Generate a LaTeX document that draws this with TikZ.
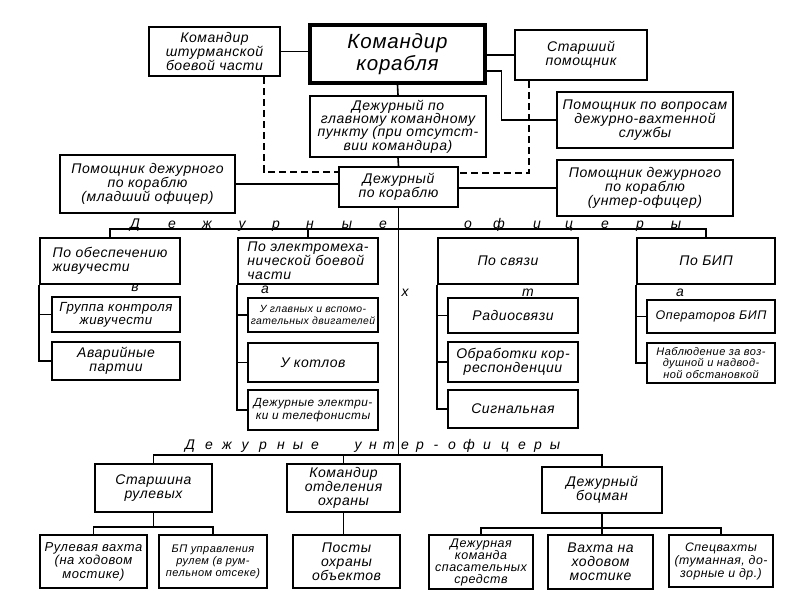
\documentclass[tikz,border=0pt]{standalone}
\usepackage{fontspec}
\setmainfont{Liberation Sans}[LetterSpace=4]
\newcommand\tsz[2]{\fontsize{#1}{#2}\selectfont\itshape}
\tikzset{
	post/.style={draw, line width=2.4pt, align=center, inner sep=1pt, font=\tsz{14}{13.8}},
	box/.style 2 args={minimum width=#1, minimum height=#2},
	small/.style={font=\tsz{11}{12}},
	link/.style={line width=1.6pt},
	spread/.style={anchor=base, inner sep=0pt, font=\tsz{14}{14}}
}

\begin{document}
\begin{tikzpicture}[x=1pt,y=-1pt]
	
	\useasboundingbox (0,0) rectangle (800,606);
	
	% Draw the command level
	\node[post, box={175}{58}, line width=3.2pt, font=\tsz{20.5}{22}] (kk) at (397.5,54) {Командир\\корабля};
	\node[post, box={131}{49}] (shturm) at (214.5,51.5) {Командир\\штурманской\\боевой части};
	\node[post, box={132}{50}] (stpom) at (581,55) {Старший\\помощник};
	\node[post, box={176}{61}, font=\tsz{14}{13.2}] (dgkp) at (398,126.5) {Дежурный по\\главному командному\\пункту (при отсутст-\\вии командира)};
	\node[post, box={176}{56}] (pomvv) at (645,120) {Помощник по вопросам\\дежурно-вахтенной\\службы};
	\node[post, box={175}{58}] (pdmo) at (147.5,184) {Помощник дежурного\\по кораблю\\(младший офицер)};
	\node[post, box={119}{40}] (dpk) at (398.5,187) {Дежурный\\по кораблю};
	\node[post, box={176}{56}] (pdu) at (645,188) {Помощник дежурного\\по кораблю\\(унтер-офицер)};
	
	\draw[link] (shturm.east) -- (kk.west |- shturm.east);
	\draw[link] (kk.east |- stpom.west) -- (stpom.west);
	\draw[link] (kk.east |- 0,71) -- ++(15,0) |- (pomvv.west);
	\draw[link] (kk.south) -- (dgkp.north);
	\draw[link] (dgkp.south) -- (dpk.north);
	\draw[link] (pdmo.east) -- (dpk.west |- pdmo.east);
	\draw[link] (dpk.east |- pdu.west) -- (pdu.west);
	\draw[link, dash pattern=on 7pt off 4pt] (shturm.south -| 264,0) |- (dpk.west |- 0,172);
	\draw[link, dash pattern=on 7pt off 4pt] (stpom.south -| 529,0) |- (dpk.east |- 0,173);
	
	% Draw the duty officers
	\foreach \ch/\xx in {Д/135,е/172,ж/207,у/242,р/276,н/310,ы/347,е/383,о/468,ф/499,и/537,ц/569,е/605,р/640,ы/676}
		\node[spread] (of\xx) at (\xx,228) {\ch};
	
	\node[post, box={140}{46}, align=left] (pzh) at (110,261) {По обеспечению\\живучести};
	\node[post, box={140}{46}, align=left] (emc) at (308,261) {По электромеха-\\нической боевой\\части};
	\node[post, box={140}{46}] (svz) at (508,261) {По связи};
	\node[post, box={138}{46}] (bip) at (706,261) {По БИП};
	
	\draw[link] (pzh.north) -- ++(0,-8) -| (bip.north);
	\draw[link] (emc.north) -- (emc.north |- 0,229);
	
	\node[post, box={128}{35}, font=\tsz{13.2}{13}] (gkz) at (116,314.5) {Группа контроля\\живучести};
	\node[post, box={128}{38}] (avp) at (116,361) {Аварийные\\партии};
	\node[post, box={130}{34}, font=\tsz{10.4}{12}] (uglav) at (313,315) {У главных и вспомо-\\гательных двигателей};
	\node[post, box={130}{39}] (ukot) at (313,362.5) {У котлов};
	\node[post, box={130}{40}, font=\tsz{11.8}{12.5}] (delt) at (313,410) {Дежурные электри-\\ки и телефонисты};
	\node[post, box={130}{35}] (rads) at (513,315.5) {Радиосвязи};
	\node[post, box={130}{40}] (obr) at (513,362) {Обработки кор-\\респонденции};
	\node[post, box={130}{38}] (sign) at (513,409) {Сигнальная};
	\node[post, box={128}{33}, font=\tsz{12.5}{12.5}] (opbip) at (711,316.5) {Операторов БИП};
	\node[post, box={128}{40}, font=\tsz{11}{11.6}] (nabl) at (711,363) {Наблюдение за воз-\\душной и надвод-\\ной обстановкой};
	
	\draw[link] (pzh.south west) |- (avp.west);
	\draw[link] (gkz.west) -- (gkz.west -| pzh.west);
	\draw[link] (emc.south west) |- (delt.west);
	\draw[link] (uglav.west) -- (uglav.west -| emc.west);
	\draw[link] (ukot.west) -- (ukot.west -| emc.west);
	\draw[link] (svz.south west) |- (sign.west);
	\draw[link] (rads.west) -- (rads.west -| svz.west);
	\draw[link] (obr.west) -- (obr.west -| svz.west);
	\draw[link] (bip.south west) |- (nabl.west);
	\draw[link] (opbip.west) -- (opbip.west -| bip.west);
	
	\foreach \ch/\xx/\yy in {в/135/288,а/265/290,х/405/293,т/528/293,а/680/293}
		\node[spread, anchor=center] (vh\xx) at (\xx,\yy) {\ch};
	
	% Draw the duty petty officers
	\foreach \ch/\xx in {Д/190,е/209,ж/227,у/245,р/263,н/281,ы/298,е/315,у/358,н/373,т/389,е/405,р/420,-/436,о/452,ф/469,и/487,ц/505,е/522,р/538,ы/555}
		\node[spread] (un\xx) at (\xx,449) {\ch};
	
	\node[post, box={117}{48}] (strul) at (153.5,488) {Старшина\\рулевых};
	\node[post, box={113}{48}] (kohr) at (343.5,488) {Командир\\отделения\\охраны};
	\node[post, box={120}{46}] (bocm) at (602,490) {Дежурный\\боцман};
	
	\draw[link] (dpk.south) -- (dpk.south |- 0,456);
	\draw[link] (strul.north) -- ++(0,-8) -| (bocm.north);
	\draw[link] (kohr.north) -- (kohr.north |- 0,456);
	
	\node[post, box={107}{53}, font=\tsz{13}{13.5}] (rulv) at (93.5,561.5) {Рулевая вахта\\(на ходовом\\мостике)};
	\node[post, box={108}{53}, small] (bpr) at (213,561.5) {БП управления\\рулем (в рум-\\пельном отсеке)};
	\node[post, box={107}{53}] (posty) at (346.5,561.5) {Посты\\охраны\\объектов};
	\node[post, box={104}{54}, font=\tsz{12.5}{12}] (dksp) at (481,562) {Дежурная\\команда\\спасательных\\средств};
	\node[post, box={105}{54}] (vhm) at (600.5,562) {Вахта на\\ходовом\\мостике};
	\node[post, box={104}{52}, font=\tsz{12.3}{13}] (spcv) at (721,561) {Спецвахты\\(туманная, до-\\зорные и др.)};
	
	\draw[link] (strul.south) -- ++(0,14) -| (rulv.north);
	\draw[link] (strul.south) ++(0,14) -| (bpr.north);
	\draw[link] (kohr.south) -- (posty.north -| kohr.south);
	\draw[link] (bocm.south) -- ++(0,14) -| (dksp.north);
	\draw[link] (bocm.south) ++(0,14) -| (spcv.north);
	\draw[link] (bocm.south) -- (vhm.north -| bocm.south);
	
\end{tikzpicture}
\end{document}
